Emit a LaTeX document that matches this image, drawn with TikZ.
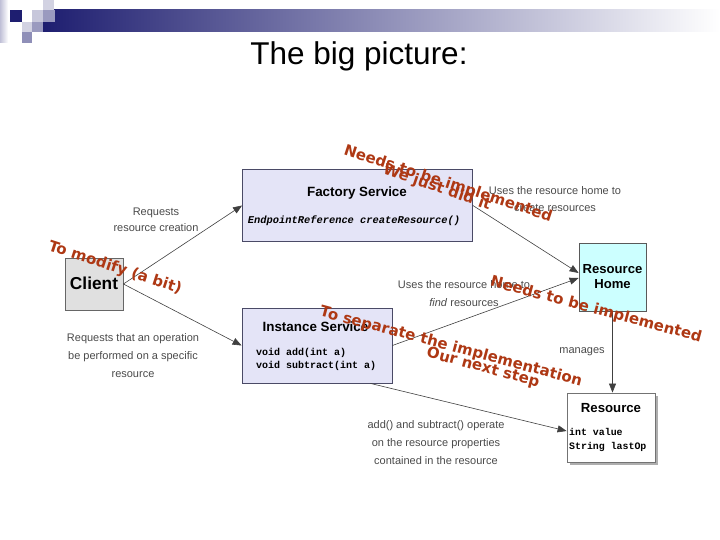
\documentclass[tikz,border=0pt]{standalone}
\usepackage{fontspec}
\setmainfont{Liberation Sans}
\setmonofont{Liberation Mono}
\newfontfamily\redfont{DejaVu Sans}
\usetikzlibrary{arrows.meta,shadows}
\definecolor{navy}{HTML}{1E1E70}
\definecolor{lav}{HTML}{E4E4F7}
\definecolor{boxline}{HTML}{4A4A66}
\definecolor{labelgray}{HTML}{4A4A4A}
\definecolor{wordart}{HTML}{AE3814}
\definecolor{homecyan}{HTML}{CCFFFF}
\tikzset{
  box/.style={draw=boxline, line width=0.8pt, inner sep=0pt},
  svcbox/.style={box, fill=lav},
  head/.style={font=\bfseries\fontsize{13.4}{15}\selectfont, inner sep=0pt},
  code/.style={font=\ttfamily\bfseries\fontsize{10}{13}\selectfont, inner sep=0pt, align=left},
  lbl/.style={text=labelgray, font=\fontsize{11}{18}\selectfont, align=center, inner sep=0pt},
  conn/.style={draw=black!75, line width=0.6pt, -{Triangle[length=9pt,width=7pt]}},
  red/.style={text=wordart, font=\redfont\bfseries\fontsize{15}{18}\selectfont, inner sep=0pt}
}
\begin{document}
\begin{tikzpicture}[x=1pt,y=-1pt]
\useasboundingbox (0,0) rectangle (720,540);
% template decoration
\fill[left color=navy, right color=white] (43,10) rectangle (720,32);
\fill[left color=navy!28, right color=white] (0,0) rectangle (8,43);
\fill[navy] (10,10) rectangle (22,22);
\fill[navy!20] (43,0) rectangle (54,10);
\fill[navy!25] (32,10) rectangle (43,22);
\fill[navy!45] (43,10) rectangle (55,22);
\fill[navy!20] (22,22) rectangle (32,32);
\fill[navy!45] (32,22) rectangle (43,32);
\fill[navy!50] (22,32) rectangle (32,43);
% title
\node[font=\fontsize{31.5}{36}\selectfont, inner sep=0pt] (title) at (359,56) {The big picture:};
% boxes
\node[svcbox, minimum width=230pt, minimum height=72pt] (factory) at (357.5,205.5) {};
\node[head] (factoryhead) at (357,193) {Factory Service};
\node[code, font=\ttfamily\bfseries\itshape\fontsize{10.4}{13}\selectfont] (factorycode) at (354,221) {EndpointReference createResource()};

\node[box, draw=black!60, fill=black!12, minimum width=58pt, minimum height=52pt] (client) at (94,284) {};
\node[font=\bfseries\fontsize{17.3}{20}\selectfont, inner sep=0pt] (clienthead) at (94,283) {Client};

\node[svcbox, minimum width=150pt, minimum height=75pt] (instance) at (317,345.5) {};
\node[head] (instancehead) at (315.5,327) {Instance Service};
\node[code, anchor=west] (instancecode) at (256,359) {void add(int a)\\void subtract(int a)};

\node[box, draw=black!65, fill=homecyan, minimum width=67pt, minimum height=68pt] (home) at (612.5,277) {};
\node[head, font=\bfseries\fontsize{13.1}{15}\selectfont, align=center] (homehead) at (612.5,277) {Resource\\Home};

\node[box, draw=black!55, fill=white, minimum width=88pt, minimum height=69pt,
      drop shadow={shadow xshift=3pt, shadow yshift=-3pt, fill=black!45, opacity=0.7}] (resource) at (611,427.5) {};
\node[head, font=\bfseries\fontsize{13.2}{15}\selectfont] (resourcehead) at (611,408) {Resource};
\node[code, font=\ttfamily\bfseries\fontsize{9.9}{14}\selectfont, anchor=west] (resourcecode) at (569,440) {int value\\String lastOp};

% connectors
\draw[conn] (client.east) -- (factory.west);
\draw[conn] (client.east) -- (instance.west);
\draw[conn] (factory.east) -- ([yshift=4pt]home.west);
\draw[conn] (instance.east) -- ([yshift=-1pt]home.west);
\draw[conn] (home.south) -- (home.south |- resource.north);
\draw[conn] ([xshift=-22pt]instance.south east) -- ([yshift=-3.5pt]resource.west);

% labels
\node[lbl, font=\fontsize{11}{16.5}\selectfont] (l1) at (156,220) {Requests\\resource creation};
\node[lbl] (l2) at (133,356) {Requests that an operation\\be performed on a specific\\resource};
\node[lbl, font=\fontsize{11}{17}\selectfont] (l3) at (555,199) {Uses the resource home to\\create resources};
\node[lbl] (l4) at (464,294) {Uses the resource home to\\\textit{find} resources};
\node[lbl] (l5) at (582,352) {manages};
\node[lbl] (l6) at (436,443) {add() and subtract() operate\\on the resource properties\\contained in the resource};

% overlaid remarks
\node[red, rotate=-18] (r1) at (448,184) {Needs to be implemented};
\node[red, rotate=-19] (r2) at (437,188) {We just did it};
\node[red, rotate=-18] (r3) at (115,268) {To modify (a bit)};
\node[red, rotate=-15] (r4) at (596,310) {Needs to be implemented};
\node[red, rotate=-15] (r5) at (451,347) {To separate the implementation};
\node[red, rotate=-15] (r6) at (483,368) {Our next step};
\end{tikzpicture}
\end{document}
